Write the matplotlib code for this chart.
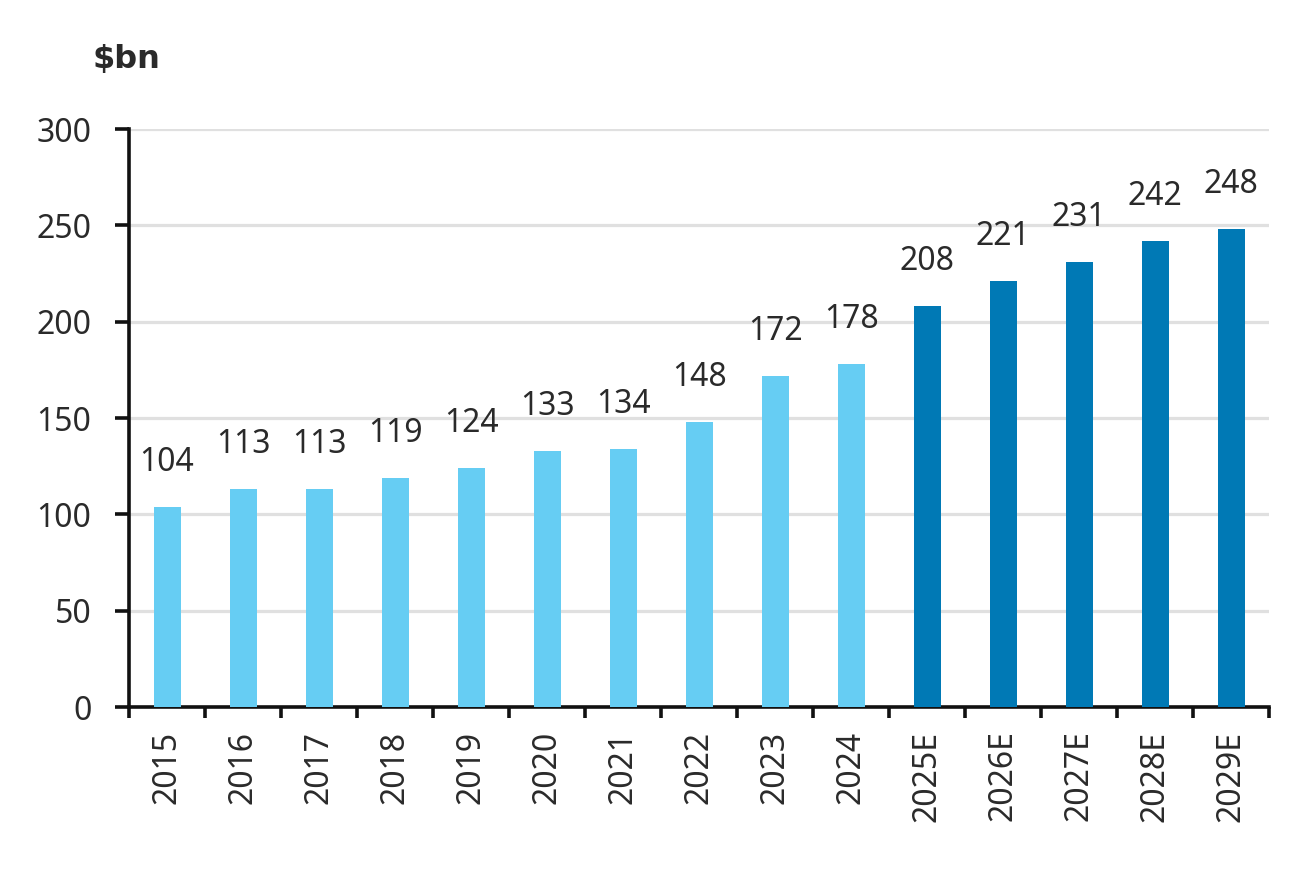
import matplotlib
matplotlib.use("Agg")
import matplotlib.pyplot as plt
import numpy as np

categories = ["2015", "2016", "2017", "2018", "2019", "2020", "2021", "2022",
              "2023", "2024", "2025E", "2026E", "2027E", "2028E", "2029E"]
values = [104, 113, 113, 119, 124, 133, 134, 148, 172, 178, 208, 221, 231, 242, 248]
is_estimate = [False] * 10 + [True] * 5
y_ticks = [0, 50, 100, 150, 200, 250, 300]
unit_label = "$bn"

LIGHT = "#66CDF3"
DARK = "#0079B5"
TEXT = "#2a2a2a"
FS = 23

plt.rcParams['font.family'] = ['Noto Sans', 'DejaVu Sans']

fig = plt.figure(figsize=(12.89, 8.82), dpi=100)
ax = fig.add_axes([0.1001, 0.1984, 0.8845, 0.6553])

x = np.arange(len(categories))
colors = [DARK if e else LIGHT for e in is_estimate]
ax.bar(x, values, width=0.355, color=colors, zorder=3)

for xi, v in zip(x, values):
    ax.annotate(f"{v}", (xi, v), xytext=(0, 26), textcoords="offset points",
                ha="center", va="baseline", fontsize=FS, color=TEXT)

ax.set_xlim(-0.5, len(categories) - 0.5)
ax.set_ylim(0, 300)
ax.set_yticks(y_ticks)
ax.set_yticklabels([str(t) for t in y_ticks], fontsize=FS, color=TEXT)

# major ticks at category boundaries, labels at centres via minor ticks
ax.set_xticks(np.arange(-0.5, len(categories), 1.0))
ax.set_xticklabels([])
ax.set_xticks(x, minor=True)
ax.set_xticklabels(categories, minor=True, rotation=90, fontsize=FS, color=TEXT)
ax.tick_params(axis="x", which="minor", length=0, pad=17)
ax.tick_params(axis="x", which="major", length=8, width=2.6, direction="out", color="#111111")
ax.tick_params(axis="y", length=10, width=2.6, direction="out", color="#111111", pad=17)

for s in ["top", "right"]:
    ax.spines[s].set_visible(False)
for s in ["left", "bottom"]:
    ax.spines[s].set_linewidth(2.6)
    ax.spines[s].set_color("#111111")

ax.yaxis.grid(True, color="#E0E0E0", linewidth=2.3, zorder=0)
ax.set_axisbelow(True)

fig.text(0.072, 0.932, unit_label, fontsize=23, fontweight="bold", color=TEXT,
         family=["DejaVu Sans"], ha="left", va="center")

fig.savefig("out.png", dpi=100, facecolor="white")
